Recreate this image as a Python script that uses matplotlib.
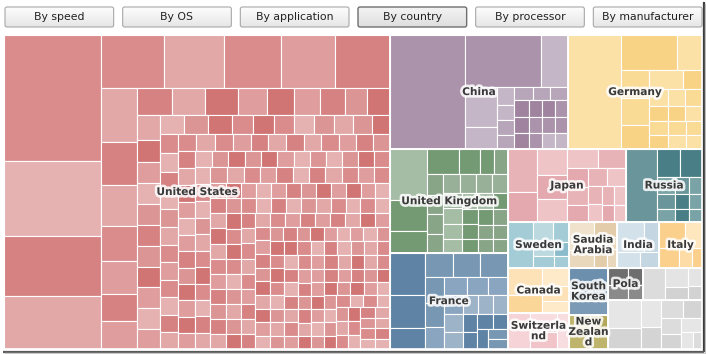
import numpy as np
import matplotlib
matplotlib.use('Agg')
import matplotlib.pyplot as plt
from matplotlib.patches import Rectangle, FancyBboxPatch
import matplotlib.patheffects as pe

# buttons along the top
buttons = ['By speed', 'By OS', 'By application', 'By country', 'By processor', 'By manufacturer']
selected = 'By country'

# country totals (relative size of each block)
countries = ['United States', 'China', 'Germany', 'United Kingdom', 'France', 'Japan', 'Russia',
             'Sweden', 'Saudia Arabia', 'India', 'Italy', 'Canada', 'Switzerland',
             'South Korea', 'New Zealand', 'Poland', 'Other A', 'Other B']
country_values = [1212, 203, 153, 123, 113, 86, 55.5,
                  28.1, 22.1, 19.3, 19.8, 27.5, 22.0,
                  18.3, 13.3, 11.2, 18.9, 46.1]
# text shown on the map (truncated as in the original)
country_labels = ['United States', 'China', 'Germany', 'United Kingdom', 'France', 'Japan', 'Russia',
                  'Sweden', 'Saudia\nArabia', 'India', 'Italy', 'Canada', 'Switzerla\nnd',
                  'South\nKorea', 'New\nZealan\nd', 'Pola', '', '']

# individual machines per country
us_cells = [11844, 7050, 5640, 4982,
            3213, 3111, 2907, 2805, 2805,
            1870, 1462, 1428, 1190, 1122, 952, 952, 918,
            841, 841, 754, 696, 667, 638, 580, 580, 551, 493,
            470, 468, 466, 464, 462, 460, 458, 456, 454, 452, 450, 448,
            400, 390, 380, 372, 364, 357, 350, 343, 336, 330,
            325, 322, 319, 316, 313, 310, 308, 306, 304, 302,
            300, 298, 296, 294, 292, 290, 288, 286, 284, 282,
            280, 279, 278, 277, 276, 274, 273, 272, 271, 270,
            268, 267, 266, 265, 264, 263, 262, 261, 260, 259,
            258, 257, 256, 255, 254, 253, 252, 251, 250, 249,
            248, 247, 246, 245, 245, 244, 243, 242, 241, 240,
            240, 239, 238, 238, 237, 236, 235, 235, 234, 233,
            232, 232, 231, 230, 230, 229, 228, 228, 227, 226,
            226, 225, 225, 224, 223, 223, 222, 221, 221, 220,
            220, 219, 219, 218, 217, 217, 216, 216, 215, 214,
            214, 213, 212, 212, 211, 211, 210, 209, 209, 208,
            208, 207, 206, 206, 205, 205, 204, 203, 203, 202,
            202, 201, 201, 200, 199, 199, 198, 198, 197, 196,
            196, 195, 195, 194, 194, 193, 192, 192, 191, 191,
            190, 190, 189, 189, 188, 188, 187, 187, 186, 186,
            185, 185, 184, 184, 183, 183, 182, 182, 181, 181,
            180, 180, 179, 179, 178, 178, 177, 177, 176, 176,
            175, 175, 174, 174, 173, 173, 172, 172, 171, 171,
            170, 170, 169, 169, 168, 168, 167, 167, 166, 166,
            165, 165, 164, 164, 163, 163, 162, 162, 161, 161,
            160, 160, 159, 159, 158, 158, 157, 157, 156, 156,
            155, 155, 154, 154, 153, 153, 152, 152, 151, 151]
china_cells = [8550, 3876, 1377, 1271, 682, 324, 270, 252, 252,
               250, 240, 240, 230, 230, 225, 220, 220, 215, 215, 210, 210, 205, 205, 200]
germany_cells = [5590, 1820, 792, 720, 704, 640, 589, 342, 285,
                 272, 260, 256, 250, 240, 235, 230, 225, 220, 215, 210]
uk_cells = [1767, 1085, 770, 744, 484, 330, 320, 310, 300, 295, 290, 285, 280, 275,
            270, 265, 260, 255, 250, 245, 240, 235, 230, 225, 220, 215, 210, 205, 200, 195, 190]
france_cells = [1476, 1152, 720, 675, 650, 650, 520, 480, 450, 420, 400, 380, 350,
                330, 310, 290, 280, 270, 260, 250, 240, 230, 220, 210, 200]
japan_cells = [1176, 812, 725, 667, 638, 540, 504, 360, 342, 324, 323, 323,
               238, 238, 204, 200, 190, 187]
russia_cells = [2250, 660, 627, 300, 260, 240, 230, 220, 210, 200, 190, 180]
sweden_cells = [1170, 420, 336, 300, 250, 208, 180]
saudi_cells = [700, 450, 350, 300, 250, 200]
india_cells = [800, 450, 350, 300]
italy_cells = [700, 450, 400, 250, 200]
canada_cells = [900, 600, 450, 400, 300]
swiss_cells = [800, 500, 450, 450]
korea_cells = [1300, 530]
nz_cells = [700, 350, 280]
poland_cells = [350, 300, 250, 220]
other_a_cells = [700, 450, 300, 250, 190]
other_b_cells = [900, 700, 550, 450, 400, 350, 320, 300, 280, 200, 156]

cell_lists = [us_cells, china_cells, germany_cells, uk_cells, france_cells, japan_cells,
              russia_cells, sweden_cells, saudi_cells, india_cells, italy_cells, canada_cells,
              swiss_cells, korea_cells, nz_cells, poland_cells, other_a_cells, other_b_cells]

shades = [
    ['#e5b1b1', '#e2a8a8', '#df9d9d', '#dc9595', '#da8c8c', '#d68282', '#d07474'],
    ['#a0849f', '#b7a5b9', '#c5b6c7', '#ab93ab'],
    ['#fbe1a6', '#f8d385', '#f9db96'],
    ['#88a588', '#749a74', '#a5bca5', '#98b098'],
    ['#7897b3', '#5f83a5', '#9db3c8', '#8aa5bf'],
    ['#e8b3b7', '#efc4c7', '#e4a9ae'],
    ['#7aa3a7', '#4a7e86', '#6a959b'],
    ['#a4ccd6', '#8cbccb', '#bcd9e0'],
    ['#ead8bd', '#e3ccaa', '#f0e2cc'],
    ['#d3e2ea', '#c4d6e1', '#dde9ef'],
    ['#fddca6', '#fbd08d', '#fee6be'],
    ['#fde2b8', '#fbd699', '#fee9c8'],
    ['#f5d3d6', '#f0c4c8', '#f8dde0'],
    ['#6c8fad', '#7b9ab5'],
    ['#beb46c', '#c9c080', '#b3a85b'],
    ['#8a8a8a', '#6e6e6e', '#9a9a9a'],
    ['#dcdcdc', '#e4e4e4', '#d2d2d2'],
    ['#dcdcdc', '#e6e6e6', '#d4d4d4'],
]

# how the country blocks are nested ('h' = side by side, 'v' = stacked)
layout_tree = ('h', ['United States',
    ('v', [('h', ['China', 'Germany']),
           ('h', [('v', ['United Kingdom', 'France']),
                  ('v', [('h', ['Japan', 'Russia']),
                         ('h', ['Sweden', 'Saudia Arabia', 'India', 'Italy']),
                         ('h', [('v', ['Canada', 'Switzerland']),
                                ('v', ['South Korea', 'New Zealand']),
                                ('v', [('h', ['Poland', 'Other A']), 'Other B'])])])])])])

value_of = dict(zip(countries, country_values))


def total(node):
    if isinstance(node, str):
        return value_of[node]
    return sum(total(k) for k in node[1])


def slice_layout(node, x, y, w, h, out):
    if isinstance(node, str):
        out[node] = (x, y, w, h)
        return
    kind, kids = node
    t = total(node)
    pos = 0
    for k in kids:
        f = total(k) / t
        if kind == 'h':
            slice_layout(k, x + pos, y, w * f, h, out)
            pos += w * f
        else:
            slice_layout(k, x, y + pos, w, h * f, out)
            pos += h * f


def worst(row, side):
    s = sum(row)
    return max(max(side * side * r / (s * s), s * s / (side * side * r)) for r in row)


def squarify(values, x, y, w, h):
    vals = sorted(values, reverse=True)
    tot = sum(vals)
    vals = [v * w * h / tot for v in vals]
    rects = []
    while vals:
        side = min(w, h)
        row = [vals[0]]
        i = 1
        while i < len(vals) and worst(row + [vals[i]], side) <= worst(row, side):
            row.append(vals[i])
            i += 1
        thick = sum(row) / side
        if w >= h:
            yy = y
            for a in row:
                rects.append((x, yy, thick, a / thick))
                yy += a / thick
            x += thick
            w -= thick
        else:
            xx = x
            for a in row:
                rects.append((xx, y, a / thick, thick))
                xx += a / thick
            y += thick
            h -= thick
        vals = vals[i:]
    return rects


fig = plt.figure(figsize=(7.06, 3.54), dpi=100)
ax = fig.add_axes([0, 0, 1, 1])
ax.set_xlim(0, 706)
ax.set_ylim(354, 0)
ax.axis('off')

# buttons
grad = np.linspace(0, 1, 50).reshape(-1, 1)
bx0, bx1, gap = 5, 702, 9
bw = (bx1 - bx0 - gap * (len(buttons) - 1)) / len(buttons)
for i, b in enumerate(buttons):
    x = bx0 + i * (bw + gap)
    sel = (b == selected)
    patch = FancyBboxPatch((x, 7), bw, 20, boxstyle='round,pad=0,rounding_size=2',
                           facecolor='none', edgecolor='#6f6f6f' if sel else '#a8a8a8',
                           lw=1.0 if sel else 0.8, zorder=3)
    ax.add_patch(patch)
    cmap = matplotlib.colors.LinearSegmentedColormap.from_list(
        'b', ['#fdfdfd', '#e6e6e6'] if not sel else ['#f4f4f4', '#dedede'])
    im = ax.imshow(grad, extent=(x, x + bw, 27, 7), cmap=cmap, aspect='auto', zorder=2)
    im.set_clip_path(patch)
    ax.text(x + bw / 2, 17.5, b, ha='center', va='center', fontsize=7.8, color='#222222',
            family='DejaVu Sans', zorder=4)

# treemap
boxes = {}
slice_layout(layout_tree, 4, 35, 698, 314, boxes)

for ci, name in enumerate(countries):
    cx, cy, cw, ch = boxes[name]
    pal = shades[ci]
    for j, (x, y, w, h) in enumerate(squarify(cell_lists[ci], cx, cy, cw, ch)):
        k = (((j + 3 * ci + 1) * 2654435761) % 4294967296 >> 13) % len(pal)
        ax.add_patch(Rectangle((x, y), w, h, facecolor=pal[k], edgecolor='white',
                               lw=0.8, zorder=2))
    ax.add_patch(Rectangle((cx, cy), cw, ch, facecolor='none', edgecolor='white',
                           lw=1.2, zorder=3))

for ci, name in enumerate(countries):
    if not country_labels[ci]:
        continue
    cx, cy, cw, ch = boxes[name]
    ax.text(cx + cw / 2, cy + ch / 2, country_labels[ci], ha='center', va='center',
            fontsize=7.6, fontweight='bold', color='#3a3a3a', linespacing=1.05,
            family='DejaVu Sans', zorder=5,
            path_effects=[pe.withStroke(linewidth=3.8, foreground='white', alpha=0.85)])

# screenshot drop shadow
ax.plot([703.5, 703.5], [2, 351.5], color='#3c3c3c', lw=1.6, zorder=6, solid_capstyle='butt')
ax.plot([3, 704], [351.5, 351.5], color='#5a5a5a', lw=1.6, zorder=6, solid_capstyle='butt')
ax.plot([705.2, 705.2], [4, 353], color='#bdbdbd', lw=1.0, zorder=6)
ax.plot([5, 705], [353.2, 353.2], color='#c8c8c8', lw=1.0, zorder=6)

fig.savefig('out.png', dpi=100, facecolor='white')
